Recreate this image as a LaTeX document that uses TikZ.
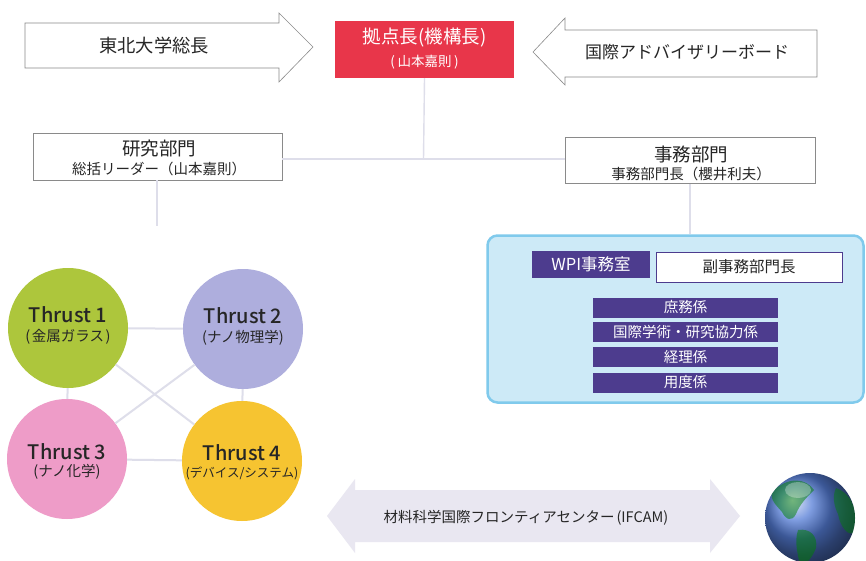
\documentclass[tikz,border=0pt]{standalone}
\usepackage{fontspec}
\setmainfont{Noto Sans CJK JP}
\newfontfamily\thrustfont{Noto Sans CJK JP Medium}
\usetikzlibrary{calc}
\definecolor{ink}{HTML}{262626}
\definecolor{boxline}{HTML}{8A8A8A}
\definecolor{bossred}{HTML}{E8364A}
\definecolor{wire}{HTML}{DEDEEA}
\definecolor{officefill}{HTML}{CDEAF7}
\definecolor{officeline}{HTML}{80CAEC}
\definecolor{deskpurple}{HTML}{4D3C8E}
\definecolor{tgreen}{HTML}{ADC63C}
\definecolor{tlav}{HTML}{AEAEDD}
\definecolor{tpink}{HTML}{EE9CC8}
\definecolor{tyellow}{HTML}{F6C431}
\definecolor{bandfill}{HTML}{E9E7F1}
\newcommand{\fs}[1]{\fontsize{#1}{#1}\selectfont}
\tikzset{
  plainbox/.style={draw=boxline, line width=0.6pt, fill=white, inner sep=0pt},
  arrowshape/.style={draw=boxline, line width=0.6pt, fill=white},
  label/.style={text=ink, inner sep=0pt},
  conn/.style={draw=wire, line width=1.4pt},
  thrustlink/.style={draw=wire, line width=2pt},
  desk/.style={fill=deskpurple, text=white, inner sep=0pt, minimum width=185pt, minimum height=20pt, font=\fs{14.5}},
  thrust/.style={circle, minimum size=120pt, inner sep=0pt},
  thrusttitle/.style={text=ink, inner sep=0pt, font=\thrustfont\fs{20}},
  thrustsub/.style={text=ink, inner sep=0pt, font=\fs{14.5}},
}
\begin{document}
\begin{tikzpicture}[x=1pt,y=-1pt]
\fill[white] (0,0) rectangle (866,561);
\useasboundingbox (0,0) rectangle (866,561);

% top row: incoming arrows and the director
\draw[arrowshape] (25,23) -- (279,23) -- (279,13) -- (313,47) -- (279,82) -- (279,68) -- (25,68) -- cycle;
\node[label, font=\fs{18.3}] (president) at (154,46) {東北大学総長};
\draw[arrowshape] (817,30) -- (565,30) -- (565,18) -- (533,52) -- (565,85) -- (565,77) -- (817,77) -- cycle;
\node[label, font=\fs{17}] (advisory) at (687,52) {国際アドバイザリーボード};
\node[fill=bossred, minimum width=179pt, minimum height=57pt, inner sep=0pt] (boss) at (424.5,49.5) {};
\node[text=white, inner sep=0pt, font=\fs{18.5}] (bossname) at (424.5,38) {拠点長(機構長)};
\node[text=white, inner sep=0pt, font=\fs{13.5}] (bossperson) at (424.5,62) {(\hspace{2.5pt}山本嘉則\hspace{2.5pt})};

% divisions
\node[plainbox, minimum width=249pt, minimum height=47pt] (research) at (157.5,156.5) {};
\node[label, font=\fs{18.5}] (researchname) at (159,148) {研究部門};
\node[label, font=\fs{14.5}] (researchlead) at (159,168.5) {総括リーダー（山本嘉則）};
\node[plainbox, minimum width=250pt, minimum height=46pt] (admin) at (690,160.5) {};
\node[label, font=\fs{18.5}] (adminname) at (691,154) {事務部門};
\node[label, font=\fs{14.5}] (adminhead) at (691,173.5) {事務部門長（櫻井利夫）};

\coordinate (hub) at (423.5,159);
\coordinate (rdown) at (157,226);
\draw[conn] (boss.south) -- (hub);
\draw[conn] (research.east |- hub) -- (admin.west |- hub);
\draw[conn] (research.south -| rdown) -- (rdown);

% administration office
\node[draw=officeline, line width=2.5pt, fill=officefill, rounded corners=10pt,
      minimum width=376pt, minimum height=167pt, inner sep=0pt] (office) at (675.5,319) {};
\draw[conn] (admin.south) -- (admin.south |- office.north);
\node[fill=deskpurple, text=white, minimum width=118pt, minimum height=27pt, inner sep=0pt, font=\fs{16.5}]
  (wpi) at (591,264.5) {WPI事務室};
\node[draw=deskpurple, line width=0.8pt, fill=white, text=ink, minimum width=186pt, minimum height=30pt, inner sep=0pt, font=\fs{15.5}]
  (deputy) at (749,267) {副事務部門長};
\node[desk] (general) at (685.5,307.5) {庶務係};
\node[desk] (intl) at (685.5,332) {国際学術・研究協力係};
\node[desk] (account) at (685.5,357) {経理係};
\node[desk] (supply) at (685.5,382.5) {用度係};

% research thrusts
\node[thrust, fill=tgreen] (t1) at (68,328) {};
\node[thrust, fill=tlav] (t2) at (243,329) {};
\node[thrust, fill=tpink] (t3) at (67,459) {};
\node[thrust, fill=tyellow] (t4) at (242,461) {};
\node[thrusttitle] (t1title) at (68,315) {Thrust 1};
\node[thrustsub] (t1sub) at (68,337) {(\hspace{1.5pt}金属ガラス\hspace{1.5pt})};
\node[thrusttitle] (t2title) at (243,316) {Thrust 2};
\node[thrustsub] (t2sub) at (243,338) {(ナノ物理学)};
\node[thrusttitle] (t3title) at (67,452) {Thrust 3};
\node[thrustsub] (t3sub) at (67,472) {(ナノ化学)};
\node[thrusttitle] (t4title) at (242,453) {Thrust 4};
\node[thrustsub, font=\fs{12.5}] (t4sub) at (242,473) {(デバイス/システム)};
\draw[thrustlink] (t1) -- (t2);
\draw[thrustlink] (t3) -- (t4);
\draw[thrustlink] (t1) -- (t3);
\draw[thrustlink] (t2) -- (t4);
\draw[thrustlink] (t1) -- (t4);
\draw[thrustlink] (t2) -- (t3);

% international centre band
\fill[bandfill] (327,516) -- (355,479) -- (355,490) -- (710,490) -- (710,479) -- (740,516)
  -- (710,553) -- (710,542) -- (355,542) -- (355,553) -- cycle;
\node[label, font=\fs{14.5}] (ifcam) at (526,518) {材料科学国際フロンティアセンター\hspace{2pt}(IFCAM)};

% globe
\shade[ball color={rgb,255:red,85;green,125;blue,215}] (810,518) circle (45);
\begin{scope}
  \clip (810,518) circle (45);
  \fill[green!50!black, opacity=0.5]
    (772,492) .. controls (788,476) and (806,478) .. (814,490)
    .. controls (806,498) and (800,504) .. (796,514)
    .. controls (792,522) and (786,520) .. (782,512)
    .. controls (776,505) and (770,500) .. cycle;
  \fill[green!50!black, opacity=0.5]
    (798,530) .. controls (810,528) and (818,536) .. (816,548)
    .. controls (812,558) and (806,565) .. (800,565)
    .. controls (798,555) and (794,542) .. cycle;
  \fill[green!50!black, opacity=0.45]
    (836,488) .. controls (852,494) and (858,510) .. (856,532)
    .. controls (848,538) and (840,526) .. (838,514)
    .. controls (834,506) and (832,496) .. cycle;
  \fill[white, opacity=0.3] (798,490) ellipse (13 and 8);
\end{scope}
\end{tikzpicture}
\end{document}
